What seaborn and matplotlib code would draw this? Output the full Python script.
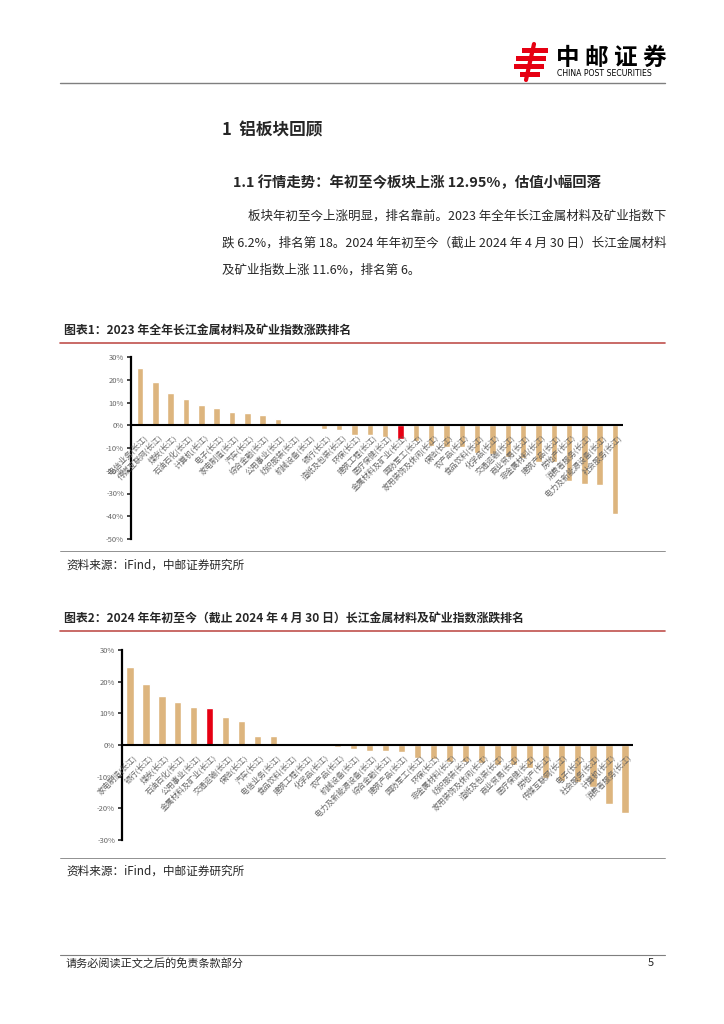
import matplotlib
matplotlib.use('Agg')
import matplotlib.pyplot as plt
import seaborn as sns
import pandas as pd
from matplotlib.lines import Line2D
from matplotlib.patches import Rectangle

sns.set_style('white')
plt.rcParams['font.family'] = ['Noto Sans CJK SC', 'DejaVu Sans']

# 2023 全年长江一级行业涨跌幅（%）
labels_2023 = ['电信业务(长江)', '传媒互联网(长江)', '煤炭(长江)', '石油石化(长江)', '计算机(长江)',
               '电子(长江)', '家电制造(长江)', '汽车(长江)', '综合金融(长江)', '公用事业(长江)',
               '纺织服装(长江)', '机械设备(长江)', '银行(长江)', '造纸及包装(长江)', '环保(长江)',
               '建筑工程(长江)', '医疗保健(长江)', '金属材料及矿业(长江)', '国防军工(长江)',
               '家用装饰及休闲(长江)', '保险(长江)', '农产品(长江)', '食品饮料(长江)', '化学品(长江)',
               '交通运输(长江)', '商业贸易(长江)', '非金属材料(长江)', '建筑产品(长江)', '房地产(长江)',
               '消费者服务(长江)', '电力及新能源设备(长江)', '社会服务(长江)']
values_2023 = [25.1, 18.8, 14.3, 11.6, 9.0, 7.4, 6.0, 5.3, 4.6, 2.6, 0.1, 0.05, -1.5, -2.1, -4.2,
               -4.3, -5.0, -6.2, -6.8, -9.0, -9.4, -9.5, -12.4, -12.5, -13.8, -14.6, -16.0, -16.1,
               -24.4, -25.9, -26.3, -39.1]

# 2024 年初至 4 月 30 日长江一级行业涨跌幅（%）
labels_2024 = ['家电制造(长江)', '银行(长江)', '煤炭(长江)', '石油石化(长江)', '公用事业(长江)',
               '金属材料及矿业(长江)', '交通运输(长江)', '保险(长江)', '汽车(长江)', '电信业务(长江)',
               '食品饮料(长江)', '建筑工程(长江)', '化学品(长江)', '农产品(长江)', '机械设备(长江)',
               '电力及新能源设备(长江)', '综合金融(长江)', '建筑产品(长江)', '国防军工(长江)', '环保(长江)',
               '非金属材料(长江)', '纺织服装(长江)', '家用装饰及休闲(长江)', '造纸及包装(长江)',
               '商业贸易(长江)', '医疗保健(长江)', '房地产(长江)', '传媒互联网(长江)', '电子(长江)',
               '社会服务(长江)', '计算机(长江)', '消费者服务(长江)']
values_2024 = [24.7, 19.2, 15.5, 13.7, 12.1, 11.6, 8.8, 7.6, 2.8, 2.7, 0.1, 0.05, 0.02, -0.5, -1.3,
               -1.8, -1.9, -2.1, -4.0, -4.3, -5.5, -5.5, -5.6, -6.3, -6.4, -7.4, -10.3, -11.3,
               -11.6, -13.2, -18.6, -21.4]

ticks_2023 = [30, 20, 10, 0, -10, -20, -30, -40, -50]
ticks_2024 = [30, 20, 10, 0, -10, -20, -30]
highlight = '金属材料及矿业(长江)'

BAR = '#DDB57E'
RED = '#E60012'
GREY = '#666666'

W, H = 724, 1024
fig = plt.figure(figsize=(W / 100, H / 100), dpi=100)


def fx(x):
    return x / W


def fy(y):
    return 1 - y / H


def hline(x0, x1, y, color, lw):
    fig.add_artist(Line2D([fx(x0), fx(x1)], [fy(y), fy(y)], color=color, lw=lw))


def text(x, y, s, **kw):
    fig.text(fx(x), fy(y), s, va='center', **kw)


def draw_chart(box, labels, values, ticks, xlim, width):
    x0, y0, x1, y1 = box
    ax = fig.add_axes([fx(x0), fy(y1), fx(x1) - fx(x0), fy(y0) - fy(y1)])
    df = pd.DataFrame({'name': labels, 'value': values})
    colors = {n: (RED if n == highlight else BAR) for n in labels}
    sns.barplot(data=df, x='name', y='value', hue='name', palette=colors, legend=False,
                width=width, saturation=1, ax=ax)
    ax.set_xlim(*xlim)
    ax.set_ylim(min(ticks), max(ticks))
    ax.set_yticks(ticks)
    ax.set_yticklabels([f'{t}%' for t in ticks], color=GREY, fontsize=5.5)
    ax.set_xticks([])
    ax.set_xlabel('')
    ax.set_ylabel('')
    for s in ['top', 'right', 'bottom']:
        ax.spines[s].set_visible(False)
    ax.spines['left'].set_linewidth(1.6)
    ax.spines['left'].set_color('black')
    ax.axhline(0, color='black', lw=1.5)
    ax.tick_params(axis='y', direction='out', length=3, width=1.2, pad=2, left=True)
    for i, n in enumerate(labels):
        ax.annotate(n, xy=(i, 0), xytext=(2, -6), textcoords='offset points', rotation=45,
                    ha='right', va='top', rotation_mode='anchor', fontsize=5.6, color=GREY)
    return ax


# header / logo
for (a, b, yy) in [(522, 548, 50), (516, 546, 58), (514, 544, 66), (520, 540, 74)]:
    fig.add_artist(Rectangle((fx(a), fy(yy + 2.5)), fx(b) - fx(a), 5 / H, color=RED, lw=0))
fig.add_artist(Line2D([fx(534), fx(530), fx(526)], [fy(44), fy(62), fy(80)], color=RED, lw=3))
text(556, 58, '中 邮 证 券', fontsize=17, fontweight='bold', color='black')
text(557, 74, 'CHINA POST SECURITIES', fontsize=5.6, color='black', family='DejaVu Sans')
hline(60, 665, 83, '#7f7f7f', 1.0)

# headings and body
text(222, 130, '1  铝板块回顾', fontsize=12, fontweight='bold')
text(233, 183, '1.1 行情走势：年初至今板块上涨 12.95%，估值小幅回落', fontsize=10.4, fontweight='bold')
text(248, 216, '板块年初至今上涨明显，排名靠前。2023 年全年长江金属材料及矿业指数下', fontsize=9.0)
text(222, 243, '跌 6.2%，排名第 18。2024 年年初至今（截止 2024 年 4 月 30 日）长江金属材料',
     fontsize=9.0)
text(222, 270, '及矿业指数上涨 11.6%，排名第 6。', fontsize=9.0)

# chart 1
text(64, 330, '图表1：2023 年全年长江金属材料及矿业指数涨跌排名', fontsize=8.6, fontweight='bold')
hline(60, 665, 343, '#C0504D', 1.2)
draw_chart((131, 357, 623, 539), labels_2023, values_2023, ticks_2023, (-0.59, 31.52), 0.42)
hline(60, 665, 551, '#7f7f7f', 0.6)
text(66, 565, '资料来源：iFind，中邮证券研究所', fontsize=8.4)

# chart 2
text(64, 618, '图表2：2024 年年初至今（截止 2024 年 4 月 30 日）长江金属材料及矿业指数涨跌排名',
     fontsize=8.6, fontweight='bold')
hline(60, 665, 631, '#C0504D', 1.2)
draw_chart((122, 650, 633, 840), labels_2024, values_2024, ticks_2024, (-0.5, 31.5), 0.45)
hline(60, 665, 858, '#7f7f7f', 0.6)
text(66, 871, '资料来源：iFind，中邮证券研究所', fontsize=8.4)

# footer
hline(60, 665, 955, '#7f7f7f', 0.8)
text(66, 963, '请务必阅读正文之后的免责条款部分', fontsize=8.0)
text(648, 963, '5', fontsize=8.0)

fig.savefig('out.png', dpi=100)
